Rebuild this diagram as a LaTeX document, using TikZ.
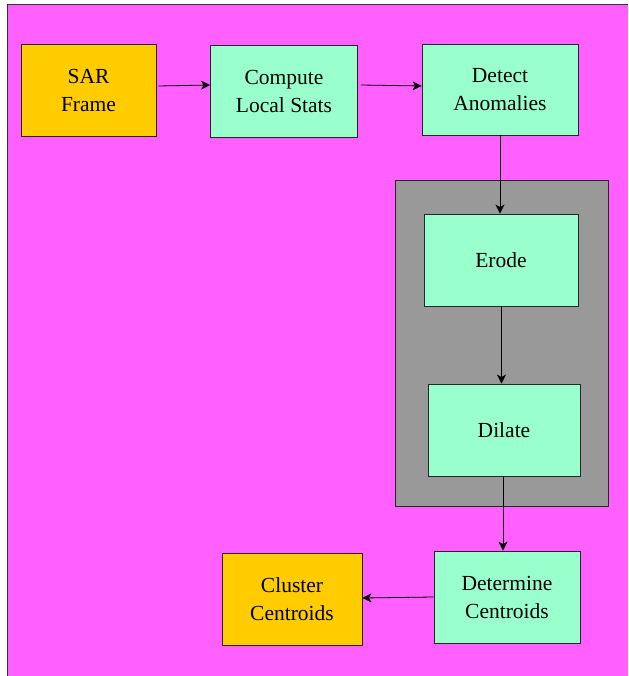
\documentclass[tikz,border=0pt]{standalone}
\usepackage{fontspec}
\setmainfont{Liberation Serif}
\usetikzlibrary{arrows.meta,calc}
\definecolor{bgmag}{HTML}{FF60FF}
\definecolor{boxgreen}{HTML}{99FFCC}
\definecolor{boxorange}{HTML}{FFCC00}
\definecolor{clustergray}{HTML}{999999}
\tikzset{
  stepbox/.style={draw=black!85, line width=0.9pt, rectangle, align=center,
    font=\fontsize{21.5}{28}\selectfont, inner sep=0pt},
  procbox/.style={stepbox, fill=boxgreen},
  termbox/.style={stepbox, fill=boxorange},
  arr/.style={draw=black, line width=0.8pt, -{Stealth[length=9pt,width=9pt,inset=2.5pt]}}
}
\begin{document}
\begin{tikzpicture}[x=1pt,y=-1pt]
\useasboundingbox (0,0) rectangle (628,676);
\fill[white] (0,0) rectangle (628,676);
\fill[bgmag] (7,4) rectangle (628,676);
\draw[draw=black!80, line width=0.9pt] (7,676) -- (7,4) -- (628,4);
\draw[fill=clustergray, draw=black!85, line width=0.9pt] (395,180) rectangle (608,506);
\node[termbox, minimum width=135pt, minimum height=92pt] (sar) at (88.5,90) {SAR\\Frame};
\node[procbox, minimum width=147pt, minimum height=92pt] (comp) at (284,91) {Compute\\Local Stats};
\node[procbox, minimum width=156pt, minimum height=91pt] (det) at (500,89.5) {Detect\\Anomalies};
\node[procbox, minimum width=154pt, minimum height=92pt] (erode) at (501,260) {Erode};
\node[procbox, minimum width=152pt, minimum height=92pt] (dilate) at (504,430) {Dilate};
\node[procbox, minimum width=146pt, minimum height=92pt] (determ) at (507,597) {Determine\\Centroids};
\node[termbox, minimum width=140pt, minimum height=92pt] (clust) at (292,599) {Cluster\\Centroids};
\draw[arr] ($(sar.east)+(2,-4)$) -- ($(comp.west)+(0,-6)$);
\draw[arr] ($(comp.east)+(3,-6)$) -- ($(det.west)+(0,-3.5)$);
\draw[arr] (det.south) -- (det.south |- erode.north);
\draw[arr] ($(erode.south)+(0.5,0)$) -- ($(erode.south |- dilate.north)+(0.5,0)$);
\draw[arr] ($(dilate.south)+(-1,0)$) -- ($(dilate.south |- determ.north)+(-1,0)$);
\draw[arr] (determ.west) -- ($(clust.east)+(0,-1)$);
\end{tikzpicture}
\end{document}
